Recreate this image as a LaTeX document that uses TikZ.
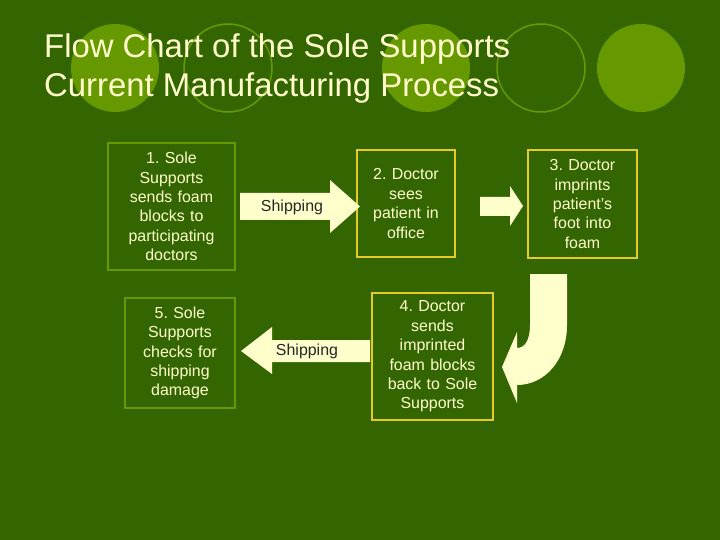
\documentclass[tikz,border=0pt]{standalone}
\usepackage{fontspec}
\setmainfont{Liberation Sans}
\frenchspacing
\definecolor{bg}{HTML}{336600}
\definecolor{lg}{HTML}{669900}
\definecolor{cr}{HTML}{FFFFCC}
\definecolor{yb}{HTML}{E6CC22}
\begin{document}
\begin{tikzpicture}[x=1bp,y=-1bp,
  gbox/.style={draw=lg,line width=2.5bp,text=cr,align=center,font=\fontsize{16}{19.5}\selectfont,inner sep=2bp},
  ybox/.style={draw=yb,line width=2.5bp,text=cr,align=center,font=\fontsize{16}{19.5}\selectfont,inner sep=2bp},
  arr/.style={fill=cr}]
\fill[bg] (0,0) rectangle (720,540);
\useasboundingbox (0,0) rectangle (720,540);
\fill[lg] (115,68) circle (44);
\draw[lg,line width=1.5bp] (228,68) circle (44);
\fill[lg] (426,68) circle (44);
\draw[lg,line width=1.5bp] (541,68) circle (44);
\fill[lg] (641,68) circle (44);
\node[anchor=north west,text=cr,align=left,font=\fontsize{33}{40}\selectfont,inner sep=0] (t) at (44,33) {Flow Chart of the Sole Supports\\Current Manufacturing Process};
\node[gbox,minimum width=127bp,minimum height=127bp,text width=120bp] (b1) at (171.5,206.5) {1. Sole\\Supports\\sends foam\\blocks to\\participating\\doctors};
\node[ybox,minimum width=98bp,minimum height=107bp,text width=92bp] (b2) at (406,203.5) {2. Doctor\\sees\\patient in\\office};
\node[ybox,minimum width=109bp,minimum height=108bp,text width=104bp] (b3) at (582.5,204) {3. Doctor\\imprints\\patient’s\\foot into\\foam};
\node[ybox,minimum width=121bp,minimum height=127bp,text width=115bp] (b4) at (432.5,356.5) {4. Doctor\\sends\\imprinted\\foam blocks\\back to Sole\\Supports};
\node[gbox,minimum width=110bp,minimum height=110bp,text width=104bp] (b5) at (180,353) {5. Sole\\Supports\\checks for\\shipping\\damage};
% shipping arrow 1->2
\fill[arr] (240,193) -- (330,193) -- (330,180) -- (360,206.5) -- (330,233) -- (330,220) -- (240,220) -- cycle;
\node[font=\fontsize{16}{19}\selectfont,text=black!85] (s1) at (292,207) {Shipping};
% arrow 2->3
\fill[arr] (480,197) -- (510,197) -- (510,186) -- (523,206) -- (510,226) -- (510,216) -- (480,216) -- cycle;
% shipping arrow 4->5
\fill[arr] (370,340) -- (272,340) -- (272,327) -- (241,351) -- (272,374) -- (272,362) -- (370,362) -- cycle;
\node[font=\fontsize{16}{19}\selectfont,text=black!85] (s2) at (307,351) {Shipping};
% curved arrow 3->4
\fill[arr] (530,274) -- (567,274) -- (567,325) .. controls (567,360) and (545,385) .. (517,385) -- (517,403) -- (502,367) -- (517,332) -- (517,348) .. controls (525,348) and (530,340) .. (530,325) -- cycle;
\end{tikzpicture}
\end{document}
